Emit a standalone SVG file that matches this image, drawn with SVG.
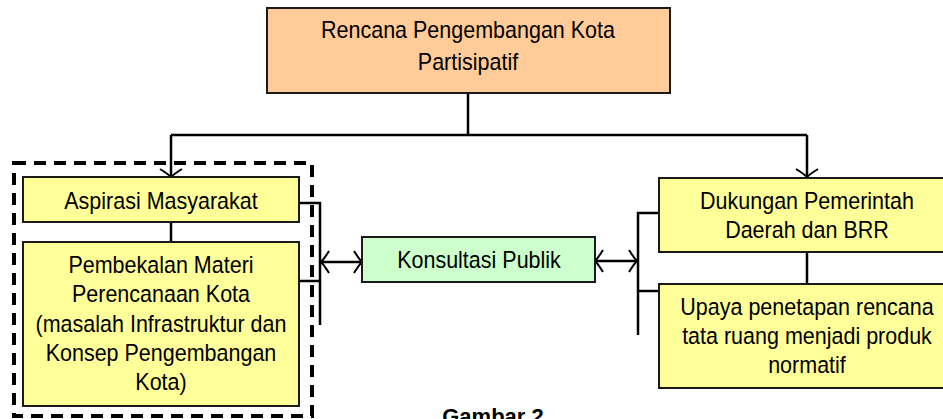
<svg xmlns="http://www.w3.org/2000/svg" width="943" height="419" viewBox="0 0 943 419">
<style>
.box{stroke:#1a1a1a;stroke-width:2}
.t{font-family:"Liberation Sans",Arial,sans-serif;font-size:21.5px;fill:#000;text-anchor:middle}
.c{fill:none;stroke:#000;stroke-width:2.5}
</style>
<defs>
<marker id="ah" markerUnits="userSpaceOnUse" viewBox="-10 -12 12 24" refX="0" refY="0" markerWidth="12" markerHeight="24" orient="auto-start-reverse" overflow="visible">
<path d="M-8,-11 Q-3,-3 0,0 Q-3,3 -8,11" fill="none" stroke="#000" stroke-width="2"/>
</marker>
</defs>
<rect width="943" height="419" fill="#fff"/>
<g id="connectors">
<line class="c" x1="468" y1="93" x2="468" y2="135"/>
<line class="c" x1="171" y1="135" x2="807" y2="135"/>
<line class="c" x1="171" y1="135" x2="171" y2="177" marker-end="url(#ah)"/>
<line class="c" x1="807" y1="135" x2="807" y2="177" marker-end="url(#ah)"/>
<line class="c" x1="171" y1="222" x2="171" y2="242"/>
<polyline class="c" points="299,203 320,203 320,325"/>
<line class="c" x1="299" y1="281" x2="320" y2="281"/>
<line class="c" x1="321" y1="262" x2="362" y2="262" marker-start="url(#ah)" marker-end="url(#ah)"/>
<line class="c" x1="595" y1="261" x2="637" y2="261" marker-start="url(#ah)" marker-end="url(#ah)"/>
<polyline class="c" points="659,213 638,213 638,335"/>
<line class="c" x1="638" y1="291" x2="659" y2="291"/>
<line class="c" x1="807" y1="252" x2="807" y2="284"/>
</g>
<g id="group-left">
<rect x="14" y="163" width="298" height="253" fill="none" stroke="#000" stroke-width="4" stroke-dasharray="12 8"/>
</g>
<g id="node-top">
<rect class="box" x="267" y="8" width="403" height="85" fill="#FFCC99"/>
<g transform="scale(1,1.1)">
<text class="t" x="468" y="34.5">Rencana Pengembangan Kota</text>
<text class="t" x="468" y="63.6">Partisipatif</text>
</g>
</g>
<g id="node-aspirasi">
<rect class="box" x="23" y="177" width="276" height="45" fill="#FFFF99"/>
<g transform="scale(1,1.1)">
<text class="t" x="161" y="190">Aspirasi Masyarakat</text>
</g>
</g>
<g id="node-pembekalan">
<rect class="box" x="23" y="242" width="276" height="164" fill="#FFFF99"/>
<g transform="scale(1,1.1)">
<text class="t" x="161" y="248.2">Pembekalan Materi</text>
<text class="t" x="161" y="274.5">Perencanaan Kota</text>
<text class="t" x="161" y="301.8">(masalah Infrastruktur dan</text>
<text class="t" x="161" y="328.2">Konsep Pengembangan</text>
<text class="t" x="161" y="354.5">Kota)</text>
</g>
</g>
<g id="node-konsultasi">
<rect class="box" x="362" y="237" width="233" height="45" fill="#CCFFCC"/>
<g transform="scale(1,1.1)">
<text class="t" x="479" y="243.6">Konsultasi Publik</text>
</g>
</g>
<g id="node-dukungan">
<rect class="box" x="659" y="178" width="300" height="74" fill="#FFFF99"/>
<g transform="scale(1,1.1)">
<text class="t" x="807" y="190">Dukungan Pemerintah</text>
<text class="t" x="807" y="216.4">Daerah dan BRR</text>
</g>
</g>
<g id="node-upaya">
<rect class="box" x="659" y="284" width="300" height="104" fill="#FFFF99"/>
<g transform="scale(1,1.1)">
<text class="t" x="807" y="286.4">Upaya penetapan rencana</text>
<text class="t" x="807" y="312.7">tata ruang menjadi produk</text>
<text class="t" x="807" y="339.1">normatif</text>
</g>
</g>
<text x="493" y="424" font-family="'Liberation Sans',Arial,sans-serif" font-size="22" font-weight="bold" text-anchor="middle">Gambar 2</text>
</svg>
